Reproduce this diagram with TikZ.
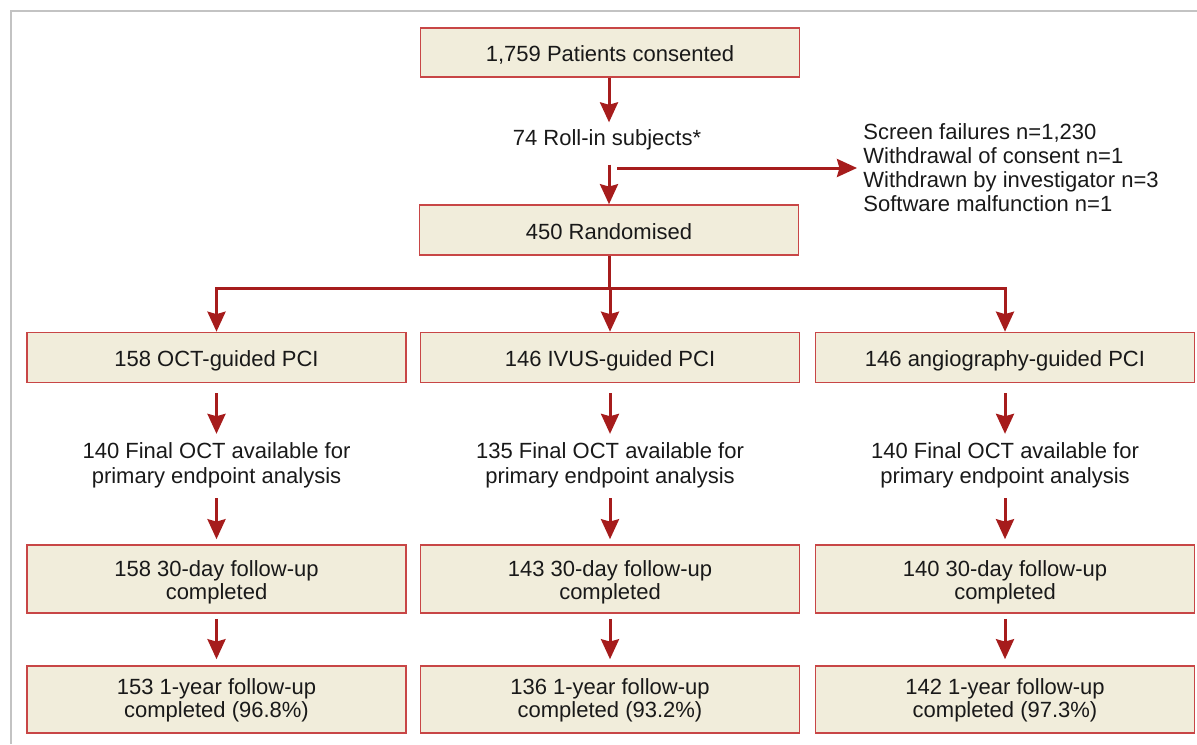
\documentclass[tikz,border=0pt]{standalone}
\usepackage{fontspec}
\setmainfont{Liberation Sans}
\usetikzlibrary{arrows.meta}
\definecolor{boxfill}{RGB}{241,237,219}
\definecolor{boxline}{RGB}{200,70,70}
\definecolor{arrred}{RGB}{166,28,28}
\definecolor{framegray}{RGB}{195,195,195}
\definecolor{txt}{RGB}{25,25,25}
\tikzset{
  box/.style={draw=boxline, fill=boxfill, line width=0.8pt, minimum width=189.5pt, align=center, inner sep=0pt, text=txt,
    font=\fontsize{11pt}{11.5pt}\selectfont},
  onebox/.style={box, minimum height=25pt, text height=10pt, text depth=1pt},
  dayboxstyle/.style={box, minimum height=34pt, text height=23pt},
  yearboxstyle/.style={box, minimum height=33.5pt, text height=20.5pt},
  plain/.style={align=center, inner sep=2pt, text=txt, font=\fontsize{11pt}{12.5pt}\selectfont},
  conn/.style={draw=arrred, line width=1.5pt},
  arr/.style={conn, -{Stealth[length=10pt,width=9pt,inset=1.2pt]}},
}
\begin{document}
\begin{tikzpicture}[x=0.5pt,y=-0.5pt]
\useasboundingbox (0,0) rectangle (1197,744);
\draw[framegray, line width=1pt] (11,744) -- (11,11) -- (1197,11);

\node[onebox, minimum height=24.5pt] (consent) at (610,52.5) {1,759 Patients consented};
\node[plain] (rollin) at (607,140) {74 Roll-in subjects*};
\node[onebox] (rand) at (609,230) {450 Randomised};
\node[plain, align=left, anchor=west, inner sep=0pt, font=\fontsize{11pt}{12pt}\selectfont] (excl) at (863,168)
  {Screen failures n=1,230\\Withdrawal of consent n=1\\Withdrawn by investigator n=3\\Software malfunction n=1};
\coordinate (split) at (609,168);
\coordinate (branch) at (609,288);

\node[onebox] (oct) at (216.5,357.5) {158 OCT-guided PCI};
\node[onebox] (ivus) at (610,357.5) {146 IVUS-guided PCI};
\node[onebox] (angio) at (1005,357.5) {146 angiography-guided PCI};

\node[plain] (octfin) at (216.5,465) {140 Final OCT available for\\primary endpoint analysis};
\node[plain] (ivusfin) at (610,465) {135 Final OCT available for\\primary endpoint analysis};
\node[plain] (angiofin) at (1005,465) {140 Final OCT available for\\primary endpoint analysis};

\node[dayboxstyle] (oct30) at (216.5,579) {158 30-day follow-up\\completed};
\node[dayboxstyle] (ivus30) at (610,579) {143 30-day follow-up\\completed};
\node[dayboxstyle] (angio30) at (1005,579) {140 30-day follow-up\\completed};

\node[yearboxstyle] (oct1y) at (216.5,699.5) {153 1-year follow-up\\completed (96.8\%)};
\node[yearboxstyle] (ivus1y) at (610,699.5) {136 1-year follow-up\\completed (93.2\%)};
\node[yearboxstyle] (angio1y) at (1005,699.5) {142 1-year follow-up\\completed (97.3\%)};

\draw[arr] (consent.south -| rand) -- ([yshift=1.5pt]rollin.north -| rand);
\draw[arr, shorten <=5pt] (rollin.south -| rand) -- (rand.north);
\draw[arr, shorten >=3pt] ([xshift=4pt]split) -- (excl.west);
\draw[conn] (rand.south) -- (branch);
\draw[arr] (branch) -- (branch -| ivus) -- (ivus.north);
\draw[arr] (branch) -| (oct.north);
\draw[arr] (branch) -| (angio.north);

\foreach \c in {oct,ivus,angio}{
  \draw[arr, shorten <=5pt, shorten >=2pt] (\c.south) -- (\c fin.north);
  \draw[arr, shorten <=3pt, shorten >=2.5pt] (\c fin.south) -- (\c30.north);
  \draw[arr, shorten <=2.5pt, shorten >=3pt] (\c30.south) -- (\c1y.north);
}
\end{tikzpicture}
\end{document}
